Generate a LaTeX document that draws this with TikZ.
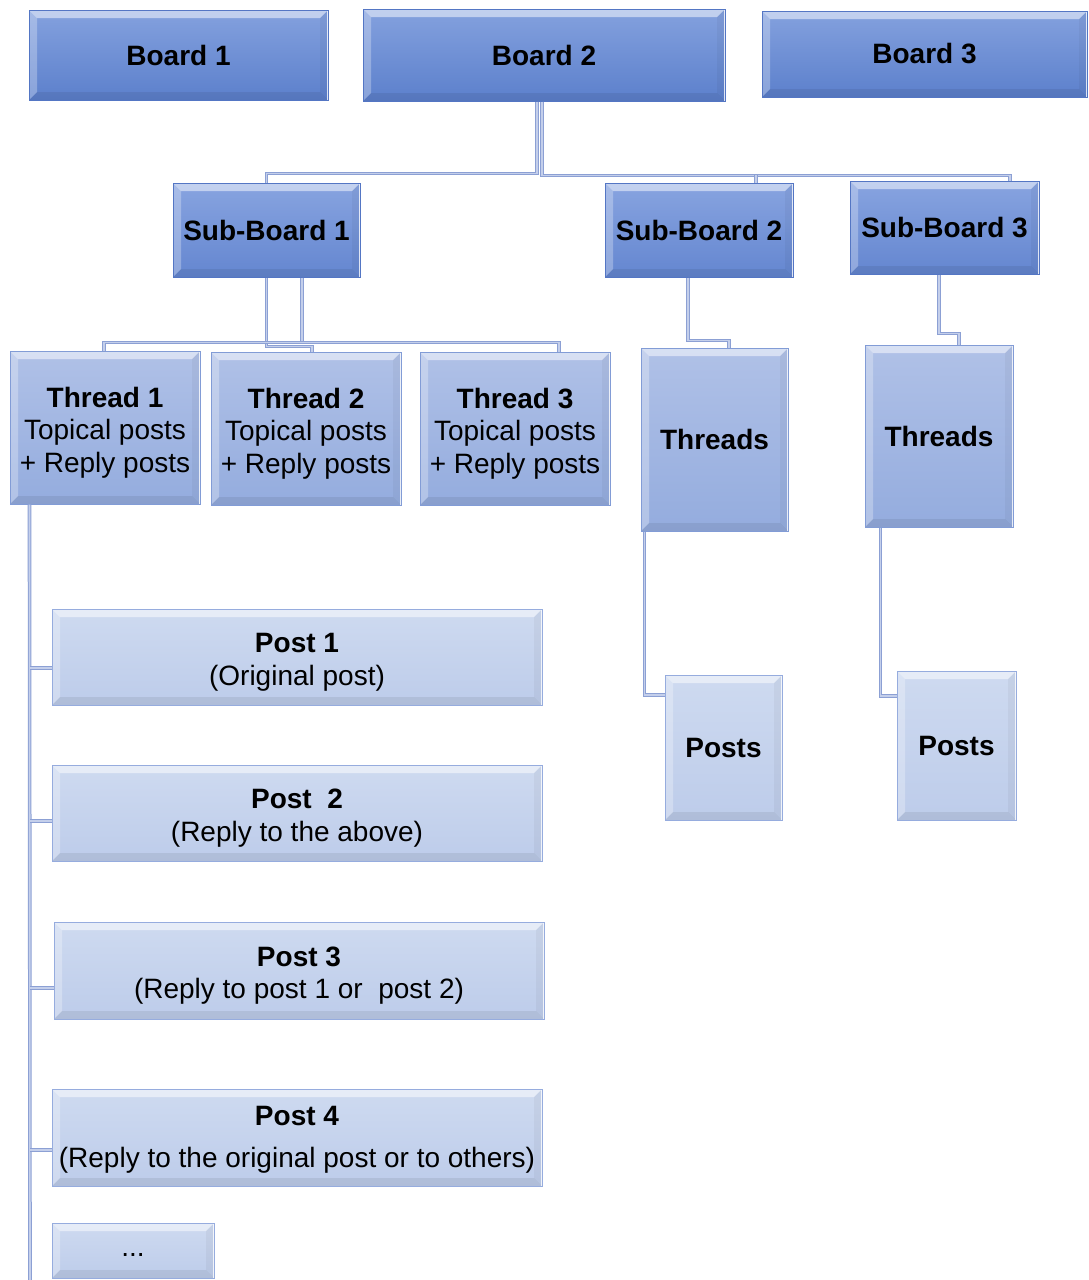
\documentclass[tikz,border=0pt]{standalone}
\usepackage{fontspec}
\setmainfont{Liberation Sans}
\usetikzlibrary{calc}

\definecolor{boardTop}{RGB}{132,161,222}
\definecolor{boardBot}{RGB}{92,128,204}
\definecolor{boardEdge}{RGB}{84,118,196}
\definecolor{subTop}{RGB}{136,164,224}
\definecolor{subBot}{RGB}{100,134,208}
\definecolor{thrTop}{RGB}{176,193,231}
\definecolor{thrBot}{RGB}{148,172,222}
\definecolor{thrEdge}{RGB}{130,156,214}
\definecolor{postTop}{RGB}{206,218,240}
\definecolor{postBot}{RGB}{189,204,234}
\definecolor{postEdge}{RGB}{150,172,222}
\definecolor{linkOut}{RGB}{140,160,212}
\definecolor{linkIn}{RGB}{196,207,235}

% taller first line pushes a two-line label slightly down
\newcommand\liftline[1][30pt]{\rule{0pt}{#1}}

\tikzset{
  bevel/.style={path picture={
    \path (path picture bounding box.north west) coordinate (bvA)
          (path picture bounding box.north east) coordinate (bvB)
          (path picture bounding box.south east) coordinate (bvC)
          (path picture bounding box.south west) coordinate (bvD);
    \fill[white,opacity=.5] (bvA) -- (bvB) -- ([shift={(-8pt,-8pt)}]bvB) -- ([shift={(8pt,-8pt)}]bvA) -- cycle;
    \fill[white,opacity=.28] (bvA) -- ([shift={(8pt,-8pt)}]bvA) -- ([shift={(8pt,8pt)}]bvD) -- (bvD) -- cycle;
    \fill[black,opacity=.04] (bvB) -- (bvC) -- ([shift={(-8pt,8pt)}]bvC) -- ([shift={(-8pt,-8pt)}]bvB) -- cycle;
    \fill[black,opacity=.07] (bvD) -- (bvC) -- ([shift={(-8pt,8pt)}]bvC) -- ([shift={(8pt,8pt)}]bvD) -- cycle;
    \draw[white,line width=1.5pt,opacity=.8] (bvB) -- (bvC);
  }},
  box/.style={rectangle, inner sep=0pt, align=center, line width=1pt,
    font=\fontsize{28}{32.5}\selectfont, bevel},
  board/.style={box, draw=boardEdge, top color=boardTop, bottom color=boardBot},
  subboard/.style={box, draw=boardEdge, top color=subTop, bottom color=subBot},
  thread/.style={box, draw=thrEdge, top color=thrTop, bottom color=thrBot},
  post/.style={box, draw=postEdge, top color=postTop, bottom color=postBot},
  conn/.style={draw=linkOut, line width=1pt, double=linkIn, double distance=1.6pt}
}

\begin{document}
\begin{tikzpicture}[x=1pt,y=-1pt]
\fill[white] (0,0) rectangle (1088,1280);
\useasboundingbox (0,0) rectangle (1088,1280);

% boards
\node[board, minimum width=299, minimum height=90] (b1) at (178.5,55) {\bfseries Board 1};
\node[board, minimum width=362, minimum height=92] (b2) at (544,55) {\bfseries Board 2};
\node[board, minimum width=325, minimum height=86] (b3) at (924.5,54) {\bfseries Board 3};

% sub-boards
\node[subboard, minimum width=187, minimum height=94] (sb1) at (266.5,230) {\bfseries Sub-Board 1};
\node[subboard, minimum width=188, minimum height=94] (sb2) at (699,230) {\bfseries Sub-Board 2};
\node[subboard, minimum width=189, minimum height=93] (sb3) at (944.5,227.5) {\bfseries Sub-Board 3};

% threads
\node[thread, minimum width=190, minimum height=153] (th1) at (105,427.5) {\liftline\textbf{Thread 1}\\Topical posts\\+ Reply posts};
\node[thread, minimum width=190, minimum height=153] (th2) at (306,428.5) {\liftline\textbf{Thread 2}\\Topical posts\\+ Reply posts};
\node[thread, minimum width=190, minimum height=153] (th3) at (515,428.5) {\liftline\textbf{Thread 3}\\Topical posts\\+ Reply posts};
\node[thread, minimum width=147, minimum height=183] (tA) at (714.5,439.5) {\bfseries Threads};
\node[thread, minimum width=148, minimum height=182] (tB) at (939,436) {\bfseries Threads};

% posts
\node[post, minimum width=117, minimum height=145] (pA) at (723.5,747.5) {\bfseries Posts};
\node[post, minimum width=119, minimum height=149] (pB) at (956.5,745.5) {\bfseries Posts};
\node[post, minimum width=490, minimum height=96] (p1) at (297,657) {\liftline\textbf{Post 1}\\(Original post)};
\node[post, minimum width=490, minimum height=96] (p2) at (297,813) {\liftline\textbf{Post~~2}\\(Reply to the above)};
\node[post, minimum width=490, minimum height=97] (p3) at (299,970.5) {\liftline\textbf{Post 3}\\(Reply to post 1 or~~post 2)};
\node[post, minimum width=490, minimum height=97] (p4) at (297,1137.5) {\liftline[24pt]\textbf{Post 4}\\[9pt](Reply to the original post or to others)};
\node[post, minimum width=162, minimum height=55] (pe) at (133,1250.5) {\smash{\raisebox{-6pt}{...}}};

% board 2 to its sub-boards
\draw[conn] ([xshift=-7pt]b2.south) -- ++(0,72) -| (sb1.north);
\draw[conn] ([xshift=-2pt]b2.south) -- ++(0,74) -| ([xshift=65.5pt]sb3.north);
\draw[conn] ([xshift=57pt]sb2.north) -- ++(0,-8);

% sub-board 1 to its threads
\draw[conn] (sb1.south) -- ++(0,69) -| ([xshift=6pt]th2.north);
\draw[conn] ([xshift=35.5pt]sb1.south) -- ++(0,66);
\draw[conn] ([xshift=-1pt]th1.north) -- ++(0,-8) -| ([xshift=44pt]th3.north);

% sub-boards 2 and 3 to threads, threads to posts
\draw[conn] ([xshift=-11pt]sb2.south) -- ++(0,63) -| ([xshift=14.5pt]tA.north);
\draw[conn] ([xshift=-5.5pt]sb3.south) -- ++(0,59) -| ([xshift=20pt]tB.north);
\draw[conn] ([xshift=4pt]tA.south west) |- ([yshift=52.5pt]pA.west);
\draw[conn] ([xshift=16pt]tB.south west) |- ([yshift=49.5pt]pB.west);

% thread 1 to its posts
\coordinate (tail) at (30,1280);
\draw[conn] ([xshift=20pt]th1.south west) -- (tail);
\draw[conn] ([yshift=-11pt]p1.west) -- ++(-22,0);
\draw[conn] ([yshift=-8pt]p2.west) -- ++(-22,0);
\draw[conn] ([yshift=-17.5pt]p3.west) -- ++(-24,0);
\draw[conn] ([yshift=-12.5pt]p4.west) -- ++(-22,0);
\end{tikzpicture}
\end{document}
